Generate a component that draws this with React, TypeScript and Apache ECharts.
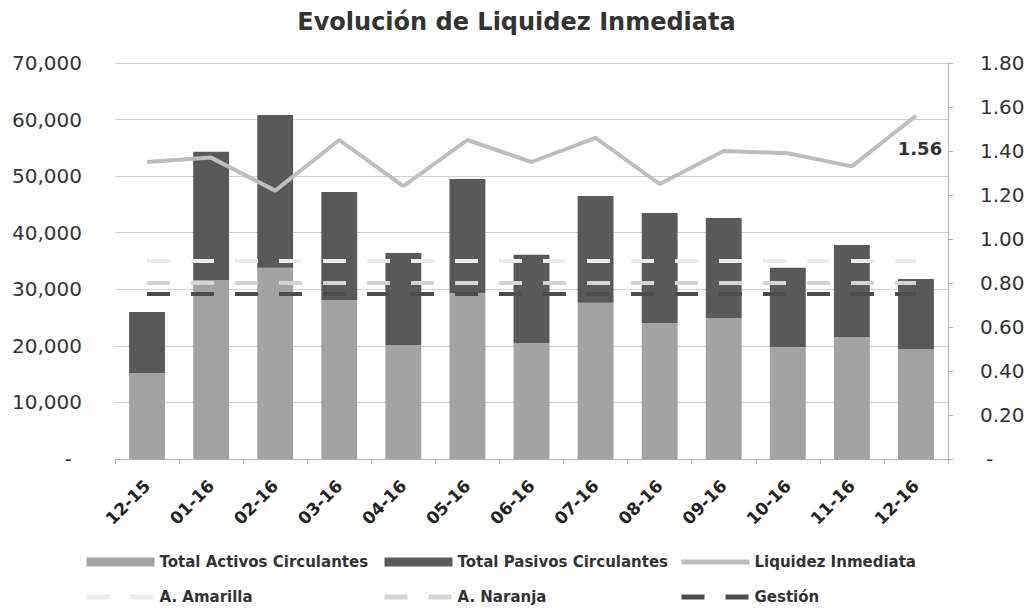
import React, { useEffect, useRef } from "react";
import * as echarts from "echarts";

const categories = ["12-15", "01-16", "02-16", "03-16", "04-16", "05-16", "06-16", "07-16", "08-16", "09-16", "10-16", "11-16", "12-16"];
const activos = [15200, 31650, 33800, 28100, 20150, 29350, 20500, 27600, 24050, 24900, 19800, 21550, 19450];
const pasivos = [10800, 22650, 27000, 19100, 16250, 20150, 15600, 18900, 19450, 17700, 14000, 16300, 12350];
const liquidez = [1.35, 1.37, 1.22, 1.45, 1.24, 1.45, 1.35, 1.46, 1.25, 1.40, 1.39, 1.33, 1.56];
const amarilla = [0.9, 0.9, 0.9, 0.9, 0.9, 0.9, 0.9, 0.9, 0.9, 0.9, 0.9, 0.9, 0.9];
const naranja = [0.8, 0.8, 0.8, 0.8, 0.8, 0.8, 0.8, 0.8, 0.8, 0.8, 0.8, 0.8, 0.8];
const gestion = [0.75, 0.75, 0.75, 0.75, 0.75, 0.75, 0.75, 0.75, 0.75, 0.75, 0.75, 0.75, 0.75];

const FONT = "'DejaVu Sans', sans-serif";

export default function App() {
  const ref = useRef<HTMLDivElement>(null);
  useEffect(() => {
    if (!ref.current) return;
    const chart = echarts.init(ref.current, undefined, { renderer: "svg" });
    const last = liquidez.length - 1;
    const legendBase = {
      orient: "vertical" as const,
      top: 552,
      padding: 0,
      itemWidth: 68,
      itemHeight: 9,
      itemGap: 15,
      textStyle: { fontFamily: FONT, fontSize: 15, fontWeight: 700, color: "#333", lineHeight: 20 },
    };
    const lineItem = (name: string) => ({ name, itemStyle: { opacity: 0 }, lineStyle: { width: 5 } });
    chart.setOption({
      animation: false,
      backgroundColor: "#ffffff",
      title: {
        text: "Evolución de Liquidez Inmediata",
        left: "center",
        top: 5,
        textStyle: { fontFamily: FONT, fontSize: 24, fontWeight: 700, color: "#333" },
      },
      grid: { left: 115, right: 85, top: 63, bottom: 150 },
      legend: [
        { ...legendBase, left: 84, data: [{ name: "Total Activos Circulantes", icon: "rect" }, lineItem("A. Amarilla")] },
        { ...legendBase, left: 382, data: [{ name: "Total Pasivos Circulantes", icon: "rect" }, lineItem("A. Naranja")] },
        { ...legendBase, left: 679, data: [lineItem("Liquidez Inmediata"), lineItem("Gestión")] },
      ],
      xAxis: {
        type: "category",
        data: categories,
        boundaryGap: true,
        axisLine: { show: true, lineStyle: { color: "#b0b0b0", width: 1 } },
        axisTick: { show: true, length: 5, lineStyle: { color: "#b0b0b0" } },
        axisLabel: {
          rotate: 45,
          interval: 0,
          margin: 24,
          fontFamily: FONT,
          fontSize: 17,
          fontWeight: 700,
          color: "#222",
        },
      },
      yAxis: [
        {
          type: "value",
          min: 0,
          max: 70000,
          interval: 10000,
          axisLine: { show: false },
          axisTick: { show: false },
          splitLine: { show: true, lineStyle: { color: "#cfcfcf", width: 1 } },
          axisLabel: {
            margin: 33,
            fontFamily: FONT,
            fontSize: 20,
            color: "#333",
            formatter: (v: number) => (v === 0 ? "{z|-}" : v.toLocaleString("en-US")),
            rich: { z: { fontFamily: FONT, fontSize: 20, color: "#333", padding: [0, 10, 0, 0] } },
          },
        },
        {
          type: "value",
          min: 0,
          max: 1.8,
          interval: 0.2,
          position: "right",
          axisLine: { show: true, lineStyle: { color: "#b0b0b0", width: 1 } },
          axisTick: { show: true, length: 5, lineStyle: { color: "#b0b0b0" } },
          splitLine: { show: false },
          axisLabel: {
            margin: 32,
            fontFamily: FONT,
            fontSize: 20,
            color: "#333",
            formatter: (v: number) => (v === 0 ? "{z|-}" : v.toFixed(2)),
            rich: { z: { fontFamily: FONT, fontSize: 20, color: "#333", padding: [0, 0, 0, 6] } },
          },
        },
      ],
      series: [
        {
          name: "Total Activos Circulantes",
          type: "bar",
          stack: "total",
          barWidth: "56%",
          data: activos,
          itemStyle: { color: "#a3a3a3" },
        },
        {
          name: "Total Pasivos Circulantes",
          type: "bar",
          stack: "total",
          barWidth: "56%",
          data: pasivos,
          itemStyle: { color: "#595959" },
        },
        {
          name: "A. Amarilla",
          type: "line",
          yAxisIndex: 1,
          data: amarilla,
          symbol: "none",
          lineStyle: { color: "#ececec", width: 4, type: [23, 21] },
          itemStyle: { color: "#ececec" },
        },
        {
          name: "A. Naranja",
          type: "line",
          yAxisIndex: 1,
          data: naranja,
          symbol: "none",
          lineStyle: { color: "#d4d4d4", width: 4, type: [23, 21] },
          itemStyle: { color: "#d4d4d4" },
        },
        {
          name: "Gestión",
          type: "line",
          yAxisIndex: 1,
          data: gestion,
          symbol: "none",
          lineStyle: { color: "#4d4d4d", width: 4, type: [23, 21] },
          itemStyle: { color: "#4d4d4d" },
        },
        {
          name: "Liquidez Inmediata",
          type: "line",
          yAxisIndex: 1,
          symbol: "none",
          data: liquidez.map((v, i) =>
            i === last
              ? {
                  value: v,
                  symbol: "circle",
                  symbolSize: 1,
                  label: {
                    show: true,
                    position: "bottom",
                    distance: 23,
                    offset: [4, 0],
                    fontFamily: FONT,
                    fontSize: 18,
                    fontWeight: 700,
                    color: "#333",
                    formatter: (p: any) => Number(p.value).toFixed(2),
                  },
                }
              : v
          ),
          lineStyle: { color: "#bdbdbd", width: 4 },
          itemStyle: { color: "#bdbdbd" },
        },
      ],
    });
    return () => chart.dispose();
  }, []);
  return <div ref={ref} style={{ position: "fixed", left: 0, top: 0, width: 1033, height: 609 }} />;
}
